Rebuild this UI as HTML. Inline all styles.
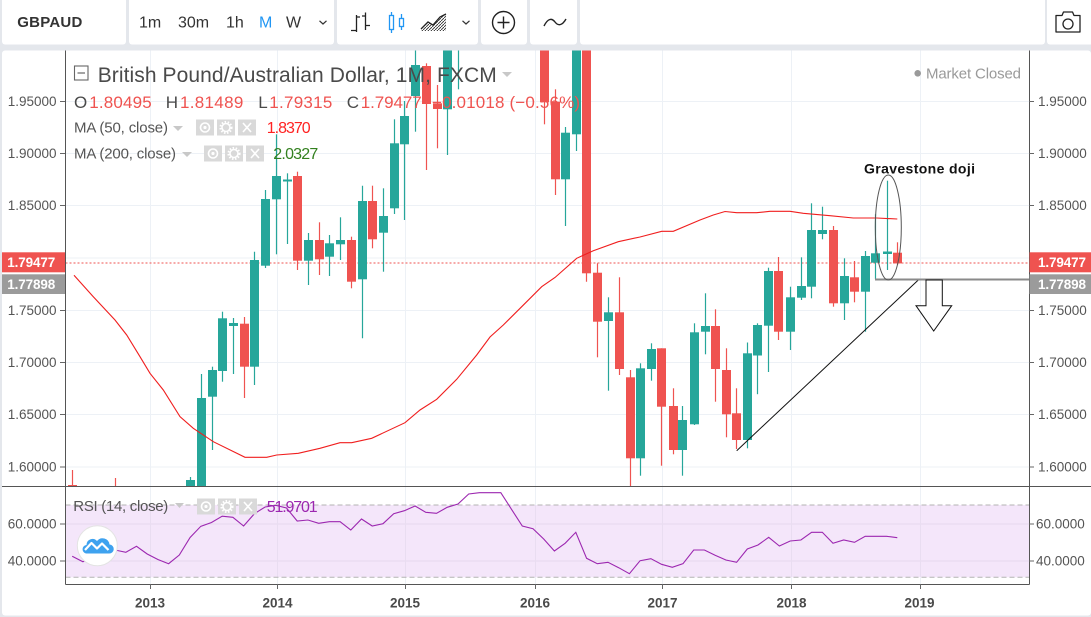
<!DOCTYPE html>
<html><head><meta charset="utf-8"><style>
html,body{margin:0;padding:0;background:#e4e7ec;}
svg{display:block;}
.ax{font-size:13.5px;fill:#555;}
.g line{stroke:#26a69a;stroke-width:1.2}
.g rect{fill:#26a69a}
.r line{stroke:#ef5350;stroke-width:1.2}
.r rect{fill:#ef5350}
</style></head><body>
<svg width="1091" height="617" viewBox="0 0 1091 617" font-family="'Liberation Sans', sans-serif">
<defs>
<clipPath id="mc"><rect x="65.5" y="50.5" width="963.5" height="435.5"/></clipPath>
<clipPath id="rc"><rect x="65.5" y="486.5" width="963.5" height="97.5"/></clipPath>
<pattern id="hatch" width="3" height="3" patternUnits="userSpaceOnUse"><rect width="3" height="3" fill="#fff"/><path d="M0 3 L3 0" stroke="#333" stroke-width="0.9"/></pattern>
</defs>
<rect width="1091" height="617" fill="#e4e7ec"/>
<!-- toolbar -->
<g fill="#fff">
<rect x="2" y="-4" width="124" height="48.5" rx="3"/>
<rect x="129" y="-4" width="205" height="48.5" rx="3"/>
<rect x="337" y="-4" width="141" height="48.5" rx="3"/>
<rect x="481" y="-4" width="46" height="48.5" rx="3"/>
<rect x="530" y="-4" width="47" height="48.5" rx="3"/>
<rect x="580" y="-4" width="465" height="48.5" rx="3"/>
<rect x="1047" y="-4" width="48" height="48.5" rx="3"/>
</g>
<text x="17.3" y="27" font-size="15" font-weight="bold" fill="#333" textLength="65">GBPAUD</text>
<g font-size="16" fill="#333">
<text x="139" y="27.5">1m</text>
<text x="178" y="27.5">30m</text>
<text x="226" y="27.5">1h</text>
<text x="259" y="27.5" fill="#2196f3">M</text>
<text x="286" y="27.5">W</text>
</g>
<path d="M319.5 20.8 L323 24 L326.5 20.8" fill="none" stroke="#333" stroke-width="1.2"/>
<!-- bar icon -->
<g stroke="#222" stroke-width="1.3" fill="none">
<path d="M356.5 15 V32 M351 30.5 H356.5 M356.5 17 H360"/>
<path d="M365.5 12.5 V30 M362 16 H365.5 M365.5 25.5 H370"/>
</g>
<!-- candle icon -->
<g stroke="#2196f3" stroke-width="1.3" fill="none">
<rect x="389.5" y="15.5" width="4" height="14"/><path d="M391.5 12 V15.5 M391.5 29.5 V33"/>
<rect x="399.5" y="18.5" width="4" height="8"/><path d="M401.5 14 V18.5 M401.5 26.5 V30"/>
</g>
<!-- area icon -->
<path d="M421 31 L421 29 L428 22 L433 25 L440 17 L446 14 L446 31 Z" fill="url(#hatch)"/>
<polyline points="421,29 428,22 433,25 440,17 446,14" fill="none" stroke="#222" stroke-width="1.3"/>
<path d="M462.5 20.8 L466 24 L469.5 20.8" fill="none" stroke="#333" stroke-width="1.2"/>
<circle cx="503.5" cy="22.5" r="11" fill="none" stroke="#222" stroke-width="1.4"/>
<path d="M503.5 16.5 V28.5 M497.5 22.5 H509.5" stroke="#222" stroke-width="1.4"/>
<path d="M544 26 C548 18 552 18 555 22 S562 26 566 19" fill="none" stroke="#222" stroke-width="1.4"/>
<!-- camera -->
<g fill="none" stroke="#222" stroke-width="1.3">
<path d="M1056 15.5 H1062 L1063.5 12 H1072.5 L1074 15.5 H1080 V32 H1056 Z" stroke-linejoin="round"/>
<circle cx="1068" cy="24" r="5"/>
</g>

<!-- chart panel -->
<rect x="2" y="50.5" width="1089" height="565" rx="3" fill="#fff"/>

<!-- grid -->
<g stroke="#edf1f6" stroke-width="1">
<path d="M65.5 101.5 H1029 M65.5 153.5 H1029 M65.5 205.5 H1029 M65.5 258 H1029 M65.5 310.5 H1029 M65.5 362.5 H1029 M65.5 414.5 H1029 M65.5 467 H1029"/>
<path d="M150.5 50.5 V584 M277.5 50.5 V584 M405.5 50.5 V584 M535.5 50.5 V584 M662.5 50.5 V584 M791.5 50.5 V584 M920.5 50.5 V584"/>
</g>

<!-- RSI pane background -->
<rect x="65.5" y="505" width="963.5" height="72.3" fill="#f4e6fa"/>
<path d="M65.5 524 H1029 M65.5 561 H1029" stroke="#e6d8ee" stroke-width="1"/>
<path d="M150.5 505 V577 M277.5 505 V577 M405.5 505 V577 M535.5 505 V577 M662.5 505 V577 M791.5 505 V577 M920.5 505 V577" stroke="#e9ddf1" stroke-width="1"/>
<path d="M65.5 505 H1029 M65.5 577.3 H1029" stroke="#b3b3b3" stroke-width="1" stroke-dasharray="5,3"/>

<!-- price line dotted -->
<path d="M65.5 263 H1029" stroke="#ef5350" stroke-width="1" stroke-dasharray="2,2"/>

<!-- candles -->
<g clip-path="url(#mc)">
<g class="r">
<line x1="72.5" y1="470" x2="72.5" y2="500"/><rect x="68" y="485" width="9" height="15"/>
<line x1="115.5" y1="478" x2="115.5" y2="500"/><rect x="111" y="487" width="9" height="12"/>
<line x1="244.5" y1="317" x2="244.5" y2="398"/><rect x="240" y="323.7" width="9" height="43"/>
<line x1="297.5" y1="171.7" x2="297.5" y2="270"/><rect x="293" y="176" width="9" height="84.7"/>
<line x1="319.5" y1="222.3" x2="319.5" y2="275"/><rect x="315" y="240" width="9" height="19.3"/>
<line x1="351.5" y1="236.7" x2="351.5" y2="288.3"/><rect x="347" y="240" width="9" height="41.7"/>
<line x1="372.5" y1="185.7" x2="372.5" y2="248.3"/><rect x="368" y="201" width="9" height="38.3"/>
<line x1="426.5" y1="63.3" x2="426.5" y2="170"/><rect x="422" y="66" width="9" height="38"/>
<line x1="437.5" y1="85" x2="437.5" y2="148.3"/><rect x="433" y="103.3" width="9" height="5.7"/>
<line x1="544.5" y1="40" x2="544.5" y2="124.3"/><rect x="540" y="40" width="9" height="62.3"/>
<line x1="555.5" y1="89.3" x2="555.5" y2="195"/><rect x="551" y="101.7" width="9" height="77.6"/>
<line x1="586.5" y1="40" x2="586.5" y2="281.7"/><rect x="582" y="40" width="9" height="233.3"/>
<line x1="597.5" y1="263.3" x2="597.5" y2="357.3"/><rect x="593" y="272.7" width="9" height="49"/>
<line x1="619.5" y1="277.3" x2="619.5" y2="375"/><rect x="615" y="312.3" width="9" height="56.7"/>
<line x1="630.5" y1="370" x2="630.5" y2="490"/><rect x="626" y="377.3" width="9" height="81"/>
<line x1="661.5" y1="348.3" x2="661.5" y2="465.7"/><rect x="657" y="348.3" width="9" height="58.4"/>
<line x1="673.5" y1="388.3" x2="673.5" y2="454.3"/><rect x="669" y="406" width="9" height="44"/>
<line x1="715.5" y1="309.3" x2="715.5" y2="401.7"/><rect x="711" y="326" width="9" height="43"/>
<line x1="726.5" y1="348.3" x2="726.5" y2="437.3"/><rect x="722" y="370" width="9" height="44.3"/>
<line x1="736.5" y1="388.3" x2="736.5" y2="449"/><rect x="732" y="413.3" width="9" height="26.7"/>
<line x1="778.5" y1="257" x2="778.5" y2="340"/><rect x="774" y="271" width="9" height="60.7"/>
<line x1="833.5" y1="226" x2="833.5" y2="306.7"/><rect x="829" y="230" width="9" height="73.3"/>
<line x1="854.5" y1="261" x2="854.5" y2="302.3"/><rect x="850" y="277.3" width="9" height="14.4"/>
<line x1="897.5" y1="242.3" x2="897.5" y2="265"/><rect x="893" y="252.7" width="9" height="10.7"/>
</g>
<g class="g">
<line x1="190.5" y1="477" x2="190.5" y2="500"/><rect x="186" y="480" width="9" height="20"/>
<line x1="201.5" y1="374" x2="201.5" y2="500"/><rect x="197" y="398" width="9" height="102"/>
<line x1="212.5" y1="366.7" x2="212.5" y2="450"/><rect x="208" y="370" width="9" height="26.7"/>
<line x1="222.5" y1="311.7" x2="222.5" y2="381.7"/><rect x="218" y="318.3" width="9" height="52.7"/>
<line x1="233.5" y1="318" x2="233.5" y2="374"/><rect x="229" y="323" width="9" height="3"/>
<line x1="254.5" y1="251.7" x2="254.5" y2="385"/><rect x="250" y="260" width="9" height="106.7"/>
<line x1="265.5" y1="190" x2="265.5" y2="268"/><rect x="261" y="199" width="9" height="66.7"/>
<line x1="276.5" y1="134.3" x2="276.5" y2="254.3"/><rect x="272" y="176" width="9" height="23.3"/>
<line x1="287.5" y1="173.3" x2="287.5" y2="244"/><rect x="283" y="179.5" width="9" height="2"/>
<line x1="308.5" y1="233" x2="308.5" y2="285"/><rect x="304" y="240" width="9" height="20.7"/>
<line x1="329.5" y1="235" x2="329.5" y2="276"/><rect x="325" y="243.3" width="9" height="13.4"/>
<line x1="340.5" y1="217.3" x2="340.5" y2="260"/><rect x="336" y="240" width="9" height="4.3"/>
<line x1="362.5" y1="185.7" x2="362.5" y2="338.3"/><rect x="358" y="201" width="9" height="78.3"/>
<line x1="383.5" y1="188.3" x2="383.5" y2="271.7"/><rect x="379" y="216" width="9" height="16.7"/>
<line x1="394.5" y1="119.3" x2="394.5" y2="214"/><rect x="390" y="143.3" width="9" height="65"/>
<line x1="404.5" y1="101" x2="404.5" y2="220"/><rect x="400" y="116" width="9" height="28.3"/>
<line x1="415.5" y1="45" x2="415.5" y2="131.7"/><rect x="411" y="65" width="9" height="31"/>
<line x1="447.5" y1="40" x2="447.5" y2="155"/><rect x="443" y="40" width="9" height="69.3"/>
<line x1="458.5" y1="40" x2="458.5" y2="89.3"/>
<line x1="565.5" y1="127" x2="565.5" y2="226"/><rect x="561" y="132.7" width="9" height="46.6"/>
<line x1="576.5" y1="40" x2="576.5" y2="151"/><rect x="572" y="40" width="9" height="94.3"/>
<line x1="608.5" y1="297.3" x2="608.5" y2="390.7"/><rect x="604" y="312.3" width="9" height="8.7"/>
<line x1="640.5" y1="363.3" x2="640.5" y2="475.7"/><rect x="636" y="368.3" width="9" height="90"/>
<line x1="651.5" y1="343.3" x2="651.5" y2="380.7"/><rect x="647" y="349" width="9" height="20"/>
<line x1="682.5" y1="406" x2="682.5" y2="475.7"/><rect x="678" y="420" width="9" height="30"/>
<line x1="694.5" y1="323.3" x2="694.5" y2="425"/><rect x="690" y="332.3" width="9" height="92"/>
<line x1="705.5" y1="293.3" x2="705.5" y2="354.3"/><rect x="701" y="326" width="9" height="5.7"/>
<line x1="747.5" y1="342.5" x2="747.5" y2="448.3"/><rect x="743" y="353.3" width="9" height="86.7"/>
<line x1="757.5" y1="323.3" x2="757.5" y2="394.2"/><rect x="753" y="325" width="9" height="30.5"/>
<line x1="768.5" y1="267.7" x2="768.5" y2="372"/><rect x="764" y="271" width="9" height="54.7"/>
<line x1="790.5" y1="286.7" x2="790.5" y2="350"/><rect x="786" y="297.3" width="9" height="34.4"/>
<line x1="801.5" y1="257.3" x2="801.5" y2="300"/><rect x="797" y="286" width="9" height="11.7"/>
<line x1="811.5" y1="203.3" x2="811.5" y2="298.3"/><rect x="807" y="230" width="9" height="56.7"/>
<line x1="822.5" y1="206.7" x2="822.5" y2="239.3"/><rect x="818" y="230" width="9" height="4"/>
<line x1="844.5" y1="258.3" x2="844.5" y2="320"/><rect x="840" y="276" width="9" height="27.3"/>
<line x1="865.5" y1="251" x2="865.5" y2="331.7"/><rect x="861" y="256" width="9" height="35.7"/>
<line x1="875.5" y1="214.3" x2="875.5" y2="279"/><rect x="871" y="253.3" width="9" height="9.4"/>
<line x1="887.5" y1="180.7" x2="887.5" y2="270"/><rect x="883" y="251.5" width="9" height="2.5"/>
</g>
<!-- MA 50 -->
<polyline fill="none" stroke="#f01e1e" stroke-width="1.1" points="74,275.3 93.3,296.7 115,320 126.7,335 140,356.7 150,373.3 163.3,390 180,416.7 193.3,428.3 213.3,441.7 245,457.3 266.7,457.3 276.7,455 298.3,453.3 320,448.3 340,442.7 351.7,442.7 371.7,438.3 405,422.7 420,410 436.7,399.3 456.7,379.3 476.7,355 490,337 503.3,325 521.7,306.7 541.7,286.7 555,277.5 576.7,258.3 593.3,250.7 618.3,241.7 640,237 661.7,231.3 673.3,231.3 700,220 713.3,215 725,211.5 736.7,212.7 756.7,212.7 770,211.3 790,211.3 803.3,213.3 830,215.7 853.3,218 876.7,218 897.3,219"/>
<!-- drawings -->
<line x1="736.7" y1="450.7" x2="918.3" y2="280" stroke="#111" stroke-width="1"/>
<line x1="875" y1="279.5" x2="1029" y2="279.5" stroke="#8a8a8a" stroke-width="2"/>
<ellipse cx="888.3" cy="227.5" rx="13" ry="52.5" fill="none" stroke="#555" stroke-width="1"/>
<polygon points="926,280 942.3,280 942.3,305.7 951.7,305.7 933.7,331 916,305.7 926,305.7" fill="#fff" stroke="#111" stroke-width="1"/>
<text x="864" y="173.5" font-size="14" font-weight="bold" fill="#111" textLength="111">Gravestone doji</text>
</g>

<!-- RSI line -->
<g clip-path="url(#rc)">
<polyline fill="none" stroke="#9c27b0" stroke-width="1.1" points="72.2,556.3 82.9,561.8 93.6,557 104.3,552 115.1,550 125.8,552.3 136.5,546.3 147.2,554 157.9,559.5 168.6,563.7 179.3,555 190.1,537.5 200.8,526.3 211.5,522.5 222.2,516.2 232.9,517.3 243.6,526 254.4,513.7 265.1,507 275.8,505.3 286.5,508 297.2,521 307.9,520 318.7,523.3 329.4,521.7 340.1,521.7 350.8,530 361.5,519 372.2,526 383,523.7 393.7,513.7 404.4,510.7 415.1,506 425.8,512.3 436.5,513.3 447.2,507.3 458,504 468.7,494 479.4,492.7 490.1,492.7 500.8,492.7 511.5,509.3 522.3,526 533,528.7 543.7,539 554.4,551 565.1,543.3 575.8,532.3 586.6,558.3 597.3,563.7 608,562.3 618.7,567.7 629.4,573.7 640.1,560.7 650.9,558.7 661.6,564.3 672.3,567.3 683,563.7 693.7,550 704.4,550 715.1,555.3 725.9,560 736.6,562.3 747.3,549 758,545 768.7,537.3 779.4,546 790.2,541 800.9,540 811.6,532.3 822.3,532.3 833,543.3 843.7,540 854.5,542.3 865.2,536.3 875.9,536.3 886.6,536.3 897.3,537.7"/>
</g>

<!-- logo -->
<circle cx="97.3" cy="545.7" r="20" fill="#fff" stroke="#e3e3e3" stroke-width="1"/>
<path d="M86 553.5 H109 A4.5 4.5 0 0 0 109.5 544.5 A7 7 0 0 0 97 541 A6 6 0 0 0 86.5 545 A4.3 4.3 0 0 0 86 553.5 Z" fill="#3ea2ef"/>
<polyline points="85,550 91.5,543 97,548.5 102,543.5 108.5,550" fill="none" stroke="#fff" stroke-width="2.2" stroke-linejoin="round"/>

<!-- axes lines -->
<g stroke="#555" stroke-width="1">
<path d="M65.5 50.5 V584.5"/>
<path d="M1029.5 50.5 V584.5"/>
<path d="M2 486.5 H1091"/>
<path d="M65.5 584.5 H1029.5"/>
</g>
<!-- ticks -->
<g stroke="#666" stroke-width="1">
<path d="M60 101.5 H65 M60 153.5 H65 M60 205.5 H65 M60 310.5 H65 M60 362.5 H65 M60 414.5 H65 M60 467 H65 M60 524 H65 M60 561 H65"/>
<path d="M1029 101.5 H1034 M1029 153.5 H1034 M1029 205.5 H1034 M1029 310.5 H1034 M1029 362.5 H1034 M1029 414.5 H1034 M1029 467 H1034 M1029 524 H1034 M1029 561 H1034"/>
<path d="M150.5 584 V589 M277.5 584 V589 M405.5 584 V589 M535.5 584 V589 M662.5 584 V589 M791.5 584 V589 M920.5 584 V589"/>
</g>
<!-- left axis labels -->
<g class="ax" text-anchor="end">
<text x="56.5" y="106">1.95000</text>
<text x="56.5" y="158">1.90000</text>
<text x="56.5" y="210">1.85000</text>
<text x="56.5" y="315">1.75000</text>
<text x="56.5" y="367">1.70000</text>
<text x="56.5" y="419">1.65000</text>
<text x="56.5" y="471.5">1.60000</text>
<text x="56.5" y="528.5">60.0000</text>
<text x="56.5" y="565.5">40.0000</text>
</g>
<g class="ax">
<text x="1038" y="106">1.95000</text>
<text x="1038" y="158">1.90000</text>
<text x="1038" y="210">1.85000</text>
<text x="1038" y="315">1.75000</text>
<text x="1038" y="367">1.70000</text>
<text x="1038" y="419">1.65000</text>
<text x="1038" y="471.5">1.60000</text>
<text x="1036" y="528.5">60.0000</text>
<text x="1036" y="565.5">40.0000</text>
</g>
<!-- price boxes -->
<rect x="2" y="252.3" width="63" height="20" fill="#ef5350"/>
<rect x="2" y="274.3" width="63" height="19.7" fill="#9b9b9b"/>
<rect x="1029.5" y="252.3" width="61.5" height="20" fill="#ef5350"/>
<rect x="1029.5" y="274.3" width="61.5" height="19.7" fill="#9b9b9b"/>
<g font-size="13.5" font-weight="bold" fill="#fff">
<text x="7.3" y="267" textLength="48">1.79477</text>
<text x="7.3" y="289" textLength="48">1.77898</text>
<text x="1038" y="267" textLength="48">1.79477</text>
<text x="1038" y="289" textLength="48">1.77898</text>
</g>
<!-- year labels -->
<g font-size="13.5" font-weight="bold" fill="#4a4a4a" text-anchor="middle">
<text x="150" y="607.5">2013</text>
<text x="277.5" y="607.5">2014</text>
<text x="405" y="607.5">2015</text>
<text x="535" y="607.5">2016</text>
<text x="662.5" y="607.5">2017</text>
<text x="791.5" y="607.5">2018</text>
<text x="919.5" y="607.5">2019</text>
</g>

<!-- legend -->
<rect x="74.5" y="66" width="13.5" height="14" fill="none" stroke="#666" stroke-width="1.1"/>
<path d="M77.5 73 H85" stroke="#666" stroke-width="1.2"/>
<text x="97.7" y="82" font-size="21" fill="#4a4a4a" textLength="399">British Pound/Australian Dollar, 1M, FXCM</text>
<path d="M502 72 H512 L507 77 Z" fill="#c8c8c8"/>
<g font-size="17">
<text x="74" y="107.8" fill="#4a4a4a">O</text>
<text x="89.3" y="107.8" fill="#ef5350" textLength="62.4">1.80495</text>
<text x="165.7" y="107.8" fill="#4a4a4a">H</text>
<text x="180" y="107.8" fill="#ef5350" textLength="63.3">1.81489</text>
<text x="258.3" y="107.8" fill="#4a4a4a">L</text>
<text x="269.3" y="107.8" fill="#ef5350" textLength="63">1.79315</text>
<text x="346.7" y="107.8" fill="#4a4a4a">C</text>
<text x="360.7" y="107.8" fill="#ef5350" textLength="61">1.79477</text>
<text x="432" y="107.8" fill="#ef5350" textLength="148">−0.01018 (−0.56%)</text>
</g>
<g font-size="15" fill="#555">
<text x="74" y="132.7" textLength="94">MA (50, close)</text>
<text x="74" y="158.7" textLength="102">MA (200, close)</text>
<text x="73.3" y="511" textLength="95">RSI (14, close)</text>
</g>
<g fill="#c8c8c8">
<path d="M173 126 H183 L178 131 Z"/>
<path d="M182 152 H192 L187 157 Z"/>
<path d="M175 503 H184 L179.5 508 Z"/>
</g>
<!-- icon boxes -->
<g fill="#d9d9d9">
<rect x="196" y="119.5" width="18" height="16"/><rect x="217" y="119.5" width="18" height="16"/><rect x="238" y="119.5" width="18" height="16"/>
<rect x="204" y="145.5" width="18" height="16"/><rect x="225" y="145.5" width="18" height="16"/><rect x="246" y="145.5" width="18" height="16"/>
<rect x="197" y="498.5" width="18" height="16"/><rect x="218" y="498.5" width="18" height="16"/><rect x="239" y="498.5" width="18" height="16"/>
</g>
<g fill="none" stroke="#fff" stroke-width="1.6">
<circle cx="205" cy="127.5" r="4.5"/><circle cx="226" cy="127.5" r="4"/><path d="M243 123 L251 132 M251 123 L243 132"/>
<circle cx="213" cy="153.5" r="4.5"/><circle cx="234" cy="153.5" r="4"/><path d="M251 149 L259 158 M259 149 L251 158"/>
<circle cx="206" cy="506.5" r="4.5"/><circle cx="227" cy="506.5" r="4"/><path d="M244 502 L252 511 M252 502 L244 511"/>
</g>
<g fill="#fff">
<circle cx="205" cy="127.5" r="1.6"/><circle cx="213" cy="153.5" r="1.6"/><circle cx="206" cy="506.5" r="1.6"/>
</g>
<g stroke="#fff" stroke-width="2" stroke-dasharray="1.5,1.6">
<circle cx="226" cy="127.5" r="5.6" fill="none"/><circle cx="234" cy="153.5" r="5.6" fill="none"/><circle cx="227" cy="506.5" r="5.6" fill="none"/>
</g>
<text x="266.7" y="133" font-size="16" fill="#f22" textLength="44">1.8370</text>
<text x="273.3" y="159" font-size="16" fill="#33801f" textLength="45">2.0327</text>
<text x="266.7" y="512" font-size="16" fill="#9c27b0" textLength="51">51.9701</text>
<!-- market closed -->
<circle cx="917.7" cy="73.3" r="3.3" fill="#9a9a9a"/>
<text x="926" y="78.5" font-size="15" fill="#9a9a9a" textLength="95">Market Closed</text>
</svg>
</body></html>
